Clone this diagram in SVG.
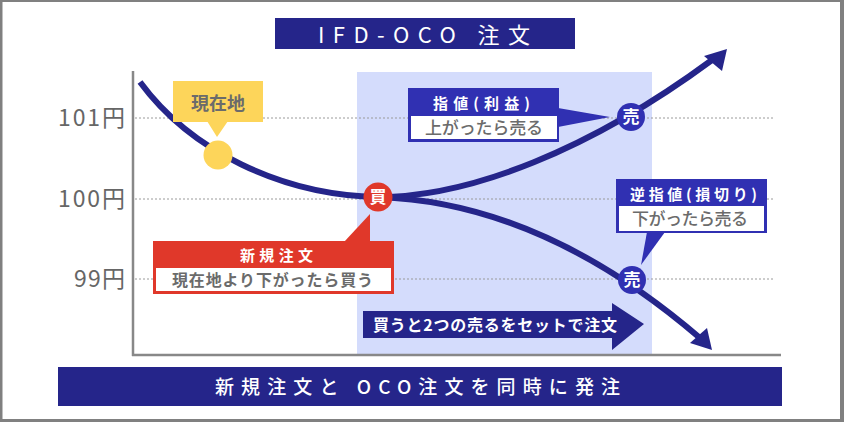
<svg xmlns="http://www.w3.org/2000/svg" width="844" height="422" viewBox="0 0 844 422">
<style>
text{font-family:"Noto Sans CJK JP","Noto Sans",sans-serif}
.ax{font-size:23px;fill:#666;text-anchor:end}
.wt{fill:#fff;font-weight:bold}
.gt{fill:#6b6b6b;font-weight:bold}
.dot{stroke:#9a9a9a;stroke-width:1;stroke-dasharray:2 2;fill:none}
.curve{stroke:#25258a;stroke-width:6;fill:none;stroke-linecap:butt}
.blue{fill:#3030b2}
.navy{fill:#25258a}
.mk{fill:#fff;font-weight:bold;font-size:17px;text-anchor:middle}
</style>
<rect x="0" y="0" width="844" height="422" fill="#808080"/>
<rect x="2.5" y="2" width="837.5" height="417" fill="#fff"/>
<rect x="357" y="72" width="295" height="283" fill="#d4dcfc"/>
<g id="grid">
<line class="dot" x1="135" y1="118" x2="775" y2="118"/>
<line class="dot" x1="135" y1="199" x2="775" y2="199"/>
<line class="dot" x1="135" y1="279" x2="775" y2="279"/>
<line x1="133" y1="71" x2="133" y2="356" stroke="#888" stroke-width="2.5"/>
<line x1="132" y1="355" x2="781" y2="355" stroke="#888" stroke-width="2.5"/>
<text class="ax" x="125" y="126" textLength="67" lengthAdjust="spacing">101円</text>
<text class="ax" x="125" y="207" textLength="67" lengthAdjust="spacing">100円</text>
<text class="ax" x="125" y="287" textLength="51" lengthAdjust="spacing">99円</text>
</g>
<g id="connectors">
<path class="curve" d="M140,82 C190,150 280,195 378,197"/>
<path class="curve" d="M378,197 C470,197 590,150 712,60"/>
<path class="curve" d="M378,197 C470,200 580,235 700,338"/>
<polygon class="navy" points="727,49 704,56 722,71"/>
<polygon class="navy" points="712,350 690,343 707,328"/>
</g>
<g id="node-current">
<circle cx="218" cy="155" r="14.5" fill="#fdd55a"/>
<rect x="173" y="81" width="90" height="41" fill="#fdd55a"/>
<polygon points="207,121 228,121 217,137" fill="#fdd55a"/>
<text class="gt" x="218" y="110" font-size="18" text-anchor="middle">現在地</text>
</g>
<g id="node-buy">
<circle cx="378" cy="197" r="14.5" fill="#e0382a"/>
<text class="mk" x="378" y="203">買</text>
</g>
<g id="callout-new">
<polygon points="344,242 370,242 370,214" fill="#e0382a"/>
<rect x="153" y="241" width="241" height="53" fill="#e0382a"/>
<rect x="156" y="268" width="235" height="23" fill="#fff"/>
<text class="wt" x="240" y="261" font-size="15" textLength="73" lengthAdjust="spacing">新規注文</text>
<text class="gt" x="172" y="286" font-size="16" textLength="201" lengthAdjust="spacing">現在地より下がったら買う</text>
</g>
<g id="node-sell-limit">
<circle cx="631" cy="117" r="14" fill="#3030b2"/>
<text class="mk" x="631" y="123">売</text>
</g>
<g id="callout-limit">
<polygon class="blue" points="558,108 558,127 610,117"/>
<rect class="blue" x="408" y="88" width="151" height="54"/>
<rect x="411" y="116" width="146" height="23" fill="#fff"/>
<text class="wt" x="433" y="109" font-size="15" textLength="97" lengthAdjust="spacing">指値(利益)</text>
<text class="gt" x="425" y="134" font-size="17" textLength="118" lengthAdjust="spacing" style="font-weight:500">上がったら売る</text>
</g>
<g id="node-sell-stop">
<circle cx="632" cy="280" r="14" fill="#3030b2"/>
<text class="mk" x="632" y="286">売</text>
</g>
<g id="callout-stop">
<polygon class="blue" points="647,232 665,232 641,265"/>
<rect class="blue" x="616" y="179" width="151" height="54"/>
<rect x="619" y="206" width="145" height="25" fill="#fff"/>
<text class="wt" x="630" y="200" font-size="15" textLength="127" lengthAdjust="spacing">逆指値(損切り)</text>
<text class="gt" x="632" y="225" font-size="17" textLength="116" lengthAdjust="spacing" style="font-weight:500">下がったら売る</text>
</g>
<g id="set-arrow">
<polygon class="navy" points="363,311 612,311 612,303 644,324 612,350 612,338 363,338"/>
<text class="wt" x="373" y="331" font-size="16" textLength="244" lengthAdjust="spacing">買うと2つの売るをセットで注文</text>
</g>
<g id="title">
<rect class="navy" x="275" y="18" width="300" height="31"/>
<text x="318" y="43" font-size="22" fill="#fff" textLength="212" lengthAdjust="spacing">IFD-OCO 注文</text>
</g>
<g id="footer">
<rect class="navy" x="58" y="367" width="724" height="39"/>
<text class="wt" x="215" y="394" font-size="19" style="font-weight:500" textLength="405" lengthAdjust="spacing">新規注文と OCO注文を同時に発注</text>
</g>
</svg>
